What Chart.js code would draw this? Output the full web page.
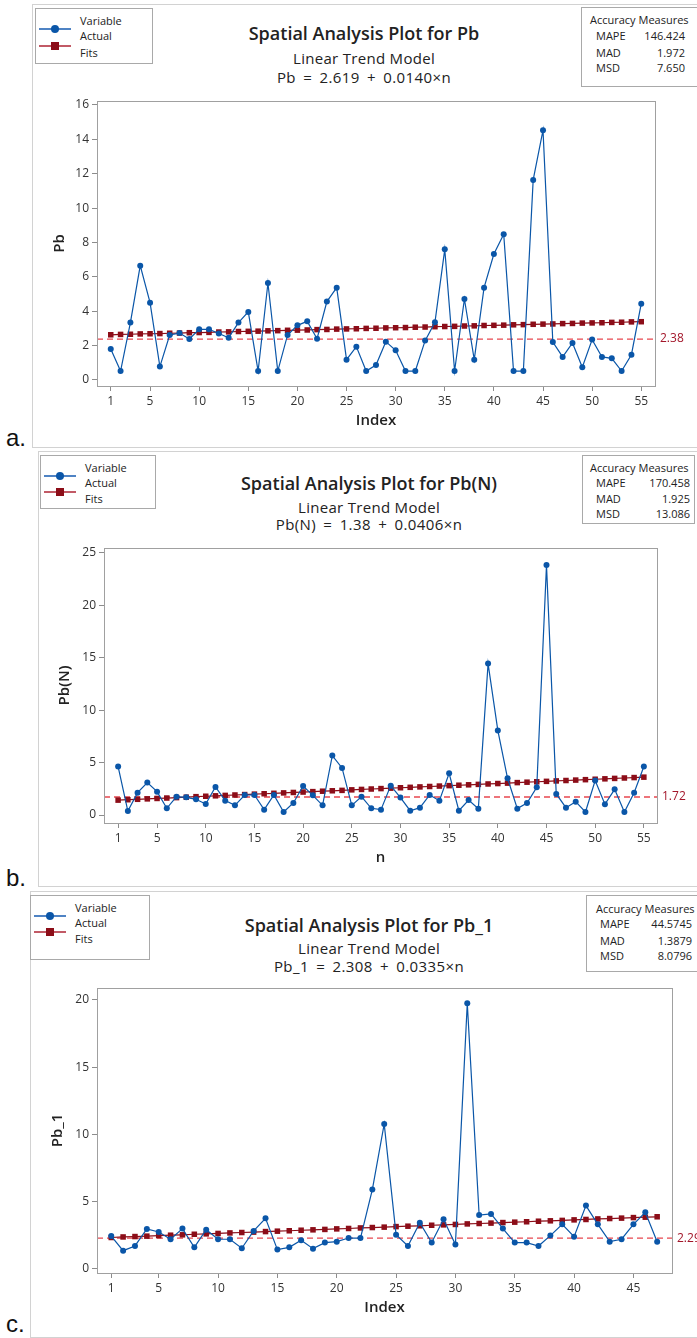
<!DOCTYPE html>
<html>
<head>
<meta charset="utf-8">
<script src="https://cdn.jsdelivr.net/npm/chart.js@4.4.0/dist/chart.umd.min.js"></script>
<style>
  body { margin: 0; width: 697px; height: 1338px; overflow: hidden; background: #fff; position: relative;
         font-family: 'Open Sans', 'Noto Sans', sans-serif; color: #222; }
  .frame { position: absolute; border: 1px solid #d2d2d2; border-right: none; width: 700px; }
  .tag { position: absolute; left: 6px; font: 24px 'Liberation Sans', Arial, sans-serif; color: #111; line-height: 24px; }
  .box { position: absolute; border: 1px solid #a9a9a9; background: #fff; font-size: 11px; color: #222; }
  .box div { position: absolute; line-height: 14px; white-space: nowrap; }
  .sym { height: 2px; width: 32px; }
  .sym i { position: absolute; left: 12px; top: -3px; width: 8px; height: 8px; }
  .title { position: absolute; width: 400px; text-align: center; white-space: nowrap; color: #222; }
  .t1 { font-size: 18px; font-weight: 600; line-height: 22px; }
  .t2 { font-size: 15px; line-height: 18px; letter-spacing: 0.3px; }
  .eq { word-spacing: 3px; letter-spacing: 0.4px; }
  canvas { position: absolute; left: 0; }
</style>
</head>
<body>

<!-- panel a -->
<div class="frame" style="left:32px; top:4px; height:442px;"></div>
<div class="tag" style="top:426px;">a.</div>
<div class="box" style="left:35px; top:8px; width:116px; height:54px;">
  <div style="left:44px; top:5px;">Variable</div>
  <div class="sym" style="left:3px; top:19px; background:#4f83c4;"><i style="background:#0a56a8; border-radius:50%;"></i></div>
  <div style="left:44px; top:20px;">Actual</div>
  <div class="sym" style="left:3px; top:36px; background:#c25a66;"><i style="background:#8c0d18;"></i></div>
  <div style="left:44px; top:37px;">Fits</div>
</div>
<div class="title t1" style="left:164px; top:22px;">Spatial Analysis Plot for Pb</div>
<div class="title t2" style="left:164px; top:49px;">Linear Trend Model</div>
<div class="title t2 eq" style="left:164px; top:68px;">Pb = 2.619 + 0.0140×n</div>
<div class="box" style="left:581px; top:7px; width:130px; height:78px;">
  <div style="left:8px; top:5px;">Accuracy Measures</div>
  <div style="left:14px; top:21px;">MAPE</div><div style="left:50px; top:21px; width:53px; text-align:right;">146.424</div>
  <div style="left:14px; top:38px;">MAD</div><div style="left:50px; top:38px; width:53px; text-align:right;">1.972</div>
  <div style="left:14px; top:53px;">MSD</div><div style="left:50px; top:53px; width:53px; text-align:right;">7.650</div>
</div>
<canvas id="chart-a" width="697" height="350" style="top:90px;"></canvas>

<!-- panel b -->
<div class="frame" style="left:38px; top:451px; height:434px;"></div>
<div class="tag" style="top:866px;">b.</div>
<div class="box" style="left:40px; top:455px; width:114px; height:52px;">
  <div style="left:44px; top:5px;">Variable</div>
  <div class="sym" style="left:3px; top:19px; background:#4f83c4;"><i style="background:#0a56a8; border-radius:50%;"></i></div>
  <div style="left:44px; top:20px;">Actual</div>
  <div class="sym" style="left:3px; top:35px; background:#c25a66;"><i style="background:#8c0d18;"></i></div>
  <div style="left:44px; top:36px;">Fits</div>
</div>
<div class="title t1" style="left:169px; top:472px;">Spatial Analysis Plot for Pb(N)</div>
<div class="title t2" style="left:169px; top:498px;">Linear Trend Model</div>
<div class="title t2 eq" style="left:169px; top:515px;">Pb(N) = 1.38 + 0.0406×n</div>
<div class="box" style="left:582px; top:455px; width:111px; height:67px;">
  <div style="left:7px; top:5px;">Accuracy Measures</div>
  <div style="left:13px; top:20px;">MAPE</div><div style="left:50px; top:20px; width:57px; text-align:right;">170.458</div>
  <div style="left:13px; top:36px;">MAD</div><div style="left:50px; top:36px; width:57px; text-align:right;">1.925</div>
  <div style="left:13px; top:51px;">MSD</div><div style="left:50px; top:51px; width:57px; text-align:right;">13.086</div>
</div>
<canvas id="chart-b" width="697" height="350" style="top:535px;"></canvas>

<!-- panel c -->
<div class="frame" style="left:30px; top:891px; height:445px;"></div>
<div class="tag" style="top:1312px;">c.</div>
<div class="box" style="left:30px; top:895px; width:118px; height:63px;">
  <div style="left:44px; top:5px;">Variable</div>
  <div class="sym" style="left:3px; top:19px; background:#4f83c4;"><i style="background:#0a56a8; border-radius:50%;"></i></div>
  <div style="left:44px; top:20px;">Actual</div>
  <div class="sym" style="left:3px; top:35px; background:#c25a66;"><i style="background:#8c0d18;"></i></div>
  <div style="left:44px; top:36px;">Fits</div>
</div>
<div class="title t1" style="left:169px; top:914px;">Spatial Analysis Plot for Pb_1</div>
<div class="title t2" style="left:169px; top:939px;">Linear Trend Model</div>
<div class="title t2 eq" style="left:169px; top:957px;">Pb_1 = 2.308 + 0.0335×n</div>
<div class="box" style="left:586px; top:895px; width:130px; height:75px;">
  <div style="left:9px; top:6px;">Accuracy Measures</div>
  <div style="left:13px; top:21px;">MAPE</div><div style="left:50px; top:21px; width:55px; text-align:right;">44.5745</div>
  <div style="left:13px; top:38px;">MAD</div><div style="left:50px; top:38px; width:55px; text-align:right;">1.3879</div>
  <div style="left:13px; top:53px;">MSD</div><div style="left:50px; top:53px; width:55px; text-align:right;">8.0796</div>
</div>
<canvas id="chart-c" width="697" height="355" style="top:975px;"></canvas>

<script>
// ---- a. Pb ----
const actualA = [1.80, 0.52, 3.34, 6.65, 4.50, 0.78, 2.62, 2.73, 2.39, 2.95,
                 2.95, 2.70, 2.46, 3.34, 3.96, 0.52, 5.64, 0.52, 2.62, 3.18,
                 3.41, 2.40, 4.56, 5.37, 1.18, 1.94, 0.52, 0.87, 2.23, 1.73,
                 0.52, 0.52, 2.29, 3.36, 7.60, 0.52, 4.71, 1.18, 5.37, 7.33,
                 8.48, 0.52, 0.52, 11.64, 14.53, 2.21, 1.34, 2.15, 0.74, 2.35,
                 1.34, 1.26, 0.52, 1.47, 4.44];
const fitsA = [2.63, 2.65, 2.66, 2.68, 2.69, 2.70, 2.72, 2.73, 2.75, 2.76,
               2.77, 2.79, 2.80, 2.82, 2.83, 2.84, 2.86, 2.87, 2.89, 2.90,
               2.91, 2.93, 2.94, 2.96, 2.97, 2.98, 3.00, 3.01, 3.03, 3.04,
               3.05, 3.07, 3.08, 3.10, 3.11, 3.12, 3.14, 3.15, 3.17, 3.18,
               3.19, 3.21, 3.22, 3.24, 3.25, 3.26, 3.28, 3.29, 3.31, 3.32,
               3.33, 3.35, 3.36, 3.38, 3.39];
const yTicksA = [0, 2, 4, 6, 8, 10, 12, 14, 16];
const xTicksA = [1, 5, 10, 15, 20, 25, 30, 35, 40, 45, 50, 55];
const refA = 2.38;

// ---- b. Pb(N) ----
const actualB = [4.62, 0.38, 2.13, 3.09, 2.23, 0.64, 1.75, 1.69, 1.50, 1.05,
                 2.68, 1.37, 0.92, 1.91, 1.91, 0.51, 1.91, 0.29, 1.15, 2.77,
                 1.88, 0.92, 5.67, 4.49, 0.92, 1.75, 0.64, 0.51, 2.80, 1.66,
                 0.41, 0.70, 1.91, 1.37, 3.98, 0.41, 1.43, 0.61, 14.43, 8.06,
                 3.50, 0.61, 1.15, 2.64, 23.82, 2.01, 0.70, 1.27, 0.29, 3.28,
                 1.02, 2.45, 0.29, 2.13, 4.62];
const fitsB = [1.42, 1.46, 1.50, 1.54, 1.58, 1.62, 1.66, 1.70, 1.75, 1.79,
               1.83, 1.87, 1.91, 1.95, 1.99, 2.03, 2.07, 2.11, 2.15, 2.19,
               2.23, 2.27, 2.31, 2.35, 2.40, 2.44, 2.48, 2.52, 2.56, 2.60,
               2.64, 2.68, 2.72, 2.76, 2.80, 2.84, 2.88, 2.92, 2.96, 3.00,
               3.04, 3.09, 3.13, 3.17, 3.21, 3.25, 3.29, 3.33, 3.37, 3.41,
               3.45, 3.49, 3.53, 3.57, 3.61];
const yTicksB = [0, 5, 10, 15, 20, 25];
const xTicksB = [1, 5, 10, 15, 20, 25, 30, 35, 40, 45, 50, 55];
const refB = 1.72;

// ---- c. Pb_1 ----
const actualC = [2.45, 1.36, 1.71, 2.97, 2.75, 2.21, 3.00, 1.61, 2.92, 2.21,
                 2.21, 1.54, 2.83, 3.77, 1.44, 1.61, 2.13, 1.51, 1.96, 2.03,
                 2.30, 2.30, 5.90, 10.78, 2.55, 1.71, 3.44, 1.96, 3.69, 1.81,
                 19.75, 4.01, 4.09, 3.00, 1.96, 1.96, 1.71, 2.48, 3.32, 2.40,
                 4.71, 3.32, 2.03, 2.21, 3.32, 4.21, 2.03];
const fitsC = [2.34, 2.38, 2.41, 2.44, 2.48, 2.51, 2.54, 2.58, 2.61, 2.64,
               2.68, 2.71, 2.74, 2.78, 2.81, 2.84, 2.88, 2.91, 2.94, 2.98,
               3.01, 3.05, 3.08, 3.11, 3.15, 3.18, 3.21, 3.25, 3.28, 3.31,
               3.35, 3.38, 3.41, 3.45, 3.48, 3.51, 3.55, 3.58, 3.61, 3.65,
               3.68, 3.72, 3.75, 3.78, 3.82, 3.85, 3.88];
const yTicksC = [0, 5, 10, 15, 20];
const xTicksC = [1, 5, 10, 15, 20, 25, 30, 35, 40, 45];
const refC = 2.29;

const BLUE = '#0a56a8';
const RED = '#8c0d18';
const FONT = "'Open Sans', 'Noto Sans', sans-serif";

/**
 * Plot frame + dashed reference line with its value label
 */
const framePlugin = {
  id: 'frame',
  beforeDatasetsDraw(chart, args, opts) {
    const { ctx, chartArea: a } = chart;
    const py = chart.scales.y.getPixelForValue(opts.ref);
    ctx.save();
    ctx.strokeStyle = '#e8474f';
    ctx.lineWidth = 1.3;
    ctx.setLineDash([6, 4]);
    ctx.beginPath();
    ctx.moveTo(a.left, py);
    ctx.lineTo(a.right, py);
    ctx.stroke();
    ctx.setLineDash([]);
    ctx.fillStyle = '#a3162a';
    ctx.font = `12px ${FONT}`;
    ctx.textBaseline = 'middle';
    ctx.fillText(opts.ref.toFixed(2), a.right + 5, py);
    ctx.restore();
  },
  afterDraw(chart) {
    const { ctx, chartArea: a } = chart;
    ctx.save();
    ctx.strokeStyle = '#a0a0a0';
    ctx.lineWidth = 1;
    ctx.strokeRect(Math.round(a.left) + 0.5, Math.round(a.top) + 0.5,
                   Math.round(a.right - a.left), Math.round(a.bottom - a.top));
    ctx.restore();
  }
};

/**
 * Build one Minitab-style trend panel
 */
function makePanel(id, p) {
  const toPoints = arr => arr.map((v, i) => ({ x: i + 1, y: v }));
  const tickStyle = { color: '#333', font: { family: FONT, size: 12 }, autoSkip: false, maxRotation: 0 };
  const gridStyle = { drawOnChartArea: false, drawTicks: true, tickLength: 5, color: '#8c8c8c' };

  return new Chart(document.getElementById(id), {
    type: 'line',
    data: {
      datasets: [{
        label: 'Actual',
        data: toPoints(p.actual),
        borderColor: BLUE,
        backgroundColor: BLUE,
        borderWidth: 1.2,
        pointRadius: 3,
        pointStyle: 'circle',
        pointBorderWidth: 0,
        tension: 0
      }, {
        label: 'Fits',
        data: toPoints(p.fits),
        borderColor: RED,
        backgroundColor: RED,
        borderWidth: 1.2,
        pointRadius: 3.9,
        pointStyle: 'rect',
        pointBorderWidth: 0,
        tension: 0
      }]
    },
    options: {
      responsive: false,
      animation: false,
      devicePixelRatio: 1,
      layout: { padding: { top: p.padTop, right: p.padRight, left: 0, bottom: 0 } },
      plugins: {
        legend: { display: false },
        tooltip: { enabled: false },
        frame: { ref: p.ref }
      },
      scales: {
        x: {
          type: 'linear',
          min: p.xMin,
          max: p.xMax,
          grid: gridStyle,
          border: { display: false },
          ticks: tickStyle,
          afterBuildTicks: s => { s.ticks = p.xTicks.map(v => ({ value: v })); },
          afterFit: s => { s.height = p.xHeight; },
          title: { display: true, text: p.xTitle, color: '#222',
                   font: { family: FONT, size: 15, weight: '600' },
                   padding: { top: 0, bottom: p.xTitlePad } }
        },
        y: {
          type: 'linear',
          min: p.yMin,
          max: p.yMax,
          grid: gridStyle,
          border: { display: false },
          ticks: tickStyle,
          afterBuildTicks: s => { s.ticks = p.yTicks.map(v => ({ value: v })); },
          afterFit: s => { s.width = p.yWidth; },
          title: { display: true, text: p.yTitle, color: '#222',
                   font: { family: FONT, size: 15, weight: '600' },
                   padding: { top: p.yTitlePad, bottom: 0 } }
        }
      }
    },
    plugins: [framePlugin]
  });
}

makePanel('chart-a', {
  actual: actualA, fits: fitsA, ref: refA, xTicks: xTicksA, yTicks: yTicksA,
  xMin: -0.4, xMax: 56.4, yMin: -0.35, yMax: 16.23,
  padTop: 11, padRight: 42, yWidth: 97, xHeight: 54,
  xTitle: 'Index', yTitle: 'Pb', xTitlePad: 10, yTitlePad: 51
});

makePanel('chart-b', {
  actual: actualB, fits: fitsB, ref: refB, xTicks: xTicksB, yTicks: yTicksB,
  xMin: -0.45, xMax: 56.35, yMin: -0.76, yMax: 25.45,
  padTop: 13, padRight: 40, yWidth: 104, xHeight: 62,
  xTitle: 'n', yTitle: 'Pb(N)', xTitlePad: 18, yTitlePad: 56
});

makePanel('chart-c', {
  actual: actualC, fits: fitsC, ref: refC, xTicks: xTicksC, yTicks: yTicksC,
  xMin: -0.2, xMax: 48.25, yMin: -0.3, yMax: 20.89,
  padTop: 13, padRight: 25, yWidth: 97, xHeight: 57,
  xTitle: 'Index', yTitle: 'Pb_1', xTitlePad: 13, yTitlePad: 49
});
</script>
</body>
</html>
